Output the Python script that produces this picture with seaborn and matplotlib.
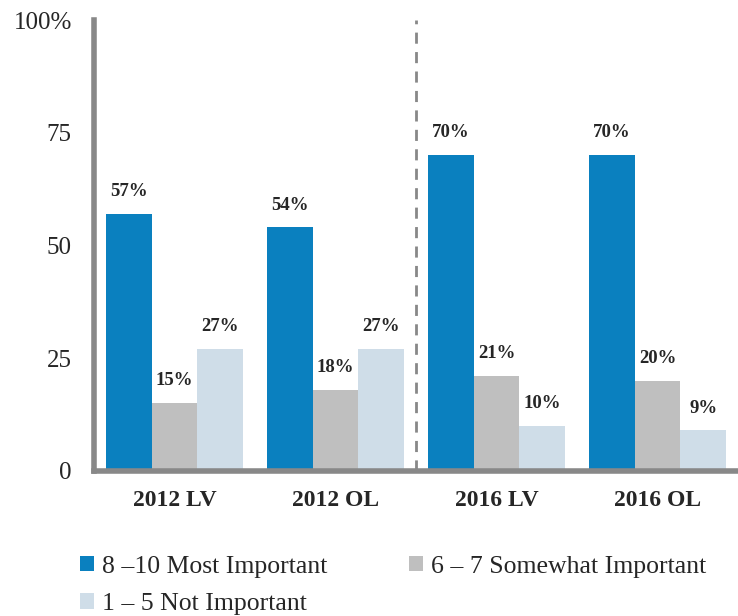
import numpy as np
import pandas as pd
import seaborn as sns
import matplotlib.pyplot as plt
from matplotlib.font_manager import FontProperties

# Data
groups = ["2012 LV", "2012 OL", "2016 LV", "2016 OL"]
series = ["8 \u201310 Most Important", "6 \u2013 7 Somewhat Important", "1 \u2013 5 Not Important"]
most = [57, 54, 70, 70]
somewhat = [15, 18, 21, 20]
not_imp = [27, 27, 10, 9]
colors = ["#0A80BF", "#BFBFBF", "#CFDDE8"]

df = pd.DataFrame({
    "group": groups * 3,
    "series": [series[0]] * 4 + [series[1]] * 4 + [series[2]] * 4,
    "value": most + somewhat + not_imp,
})

sns.set_style("white")
serif = ["Liberation Serif", "DejaVu Serif"]
plt.rcParams["font.family"] = serif

fig = plt.figure(figsize=(7.38, 6.16), dpi=100)
ax = fig.add_axes([0.1274, 0.2354, 0.8726, 0.7321])

sns.barplot(data=df, x="group", y="value", hue="series", hue_order=series,
            palette=colors, width=0.852, gap=0, saturation=1, linewidth=0,
            ax=ax, legend=True)

# bar labels
for cont in ax.containers:
    ax.bar_label(cont, labels=[f"{v:.0f}%" for v in cont.datavalues],
                 padding=10, fontsize=13.5, fontweight="bold")

ax.set_xlim(-0.5, 3.475)
ax.set_ylim(0, 100)
ax.set_yticks([0, 25, 50, 75, 100])
ax.set_yticklabels(["0", "25", "50", "75", "100%"], fontsize=18)
ax.set_xticks([0, 1, 2, 3])
ax.set_xticklabels(groups, fontsize=17, fontweight="bold")
ax.set_xticks([-0.5, 0.5, 1.5, 2.5, 3.5], minor=True)
ax.tick_params(axis="x", which="major", length=0, pad=14)
ax.tick_params(axis="x", which="minor", length=6, width=4, color="#888888", direction="out")
ax.tick_params(axis="y", length=6, width=4, color="#888888", direction="out", pad=10)
ax.set_xlabel("")
ax.set_ylabel("")

for s in ["top", "right"]:
    ax.spines[s].set_visible(False)
for s in ["left", "bottom"]:
    ax.spines[s].set_color("#888888")
    ax.spines[s].set_linewidth(4)

ax.axvline(1.5, color="#888888", linestyle=(0, (4, 3)), linewidth=2, zorder=0)

handles, labels = ax.get_legend_handles_labels()
ax.legend_.remove()
order = [0, 2, 1]
fig.legend([handles[i] for i in order], [labels[i] for i in order],
           loc="upper left", bbox_to_anchor=(0.108, 0.098),
           ncol=2, frameon=False, prop=FontProperties(family=serif, size=18.5),
           handlelength=0.55, handleheight=0.55, handletextpad=0.3,
           columnspacing=3.2, labelspacing=0.6, borderaxespad=0, borderpad=0)

fig.savefig("out.png", dpi=100)
